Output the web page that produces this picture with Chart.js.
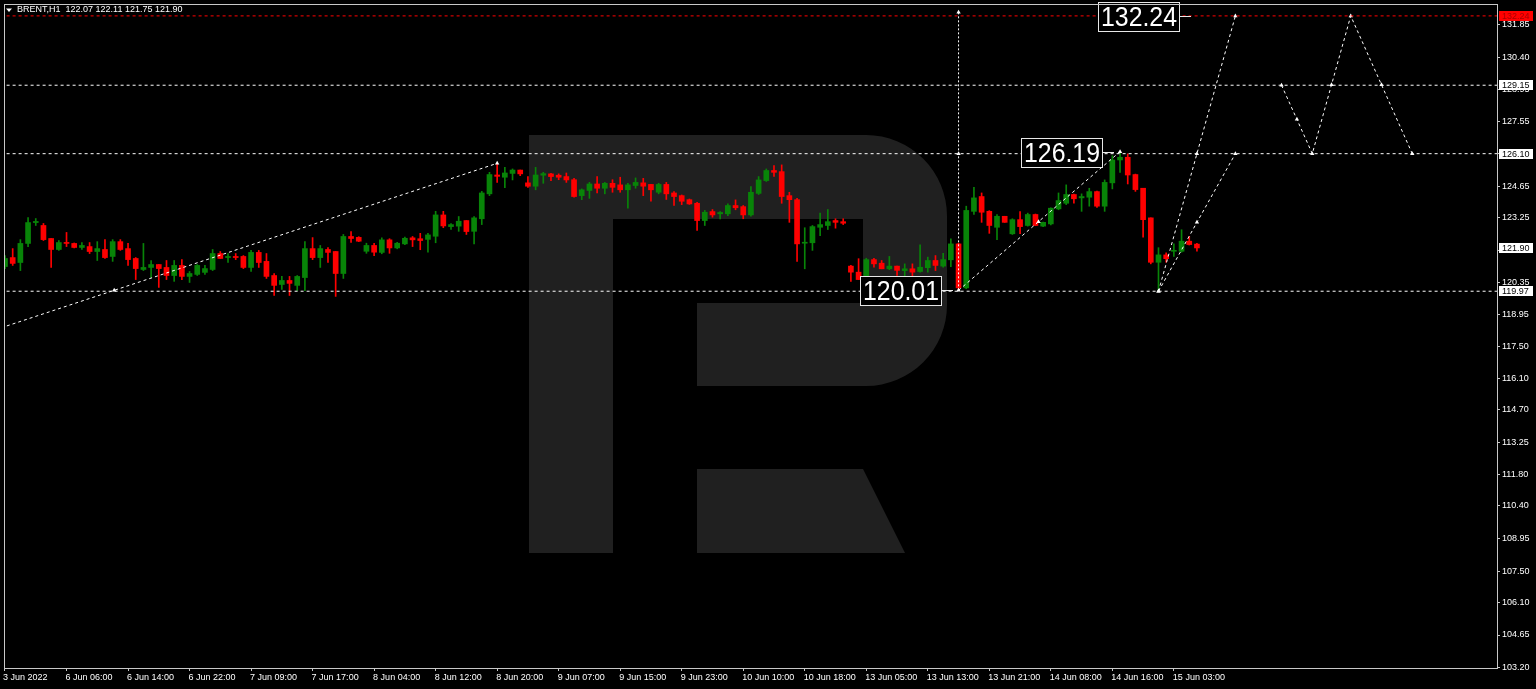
<!DOCTYPE html>
<html>
<head>
<meta charset="utf-8">
<title>BRENT,H1</title>
<script src="https://cdn.jsdelivr.net/npm/chart.js@4.4.1/dist/chart.umd.min.js"></script>
<style>
  html, body { margin: 0; padding: 0; background: #000; overflow: hidden; }
  #wrap { width: 1536px; height: 689px; }
</style>
</head>
<body>
<div id="wrap"><canvas id="brent-chart" width="1536" height="689"></canvas></div>
<script>
// BRENT H1 candles, oldest first (bar index = position in the array)
const barOpen = [
  121.07,121.47,121.25,122.10,123.03,122.90,122.32,121.83,122.14,122.10,
  121.92,121.96,121.74,121.83,121.52,122.18,121.87,121.43,120.94,121.03,
  121.16,121.03,120.67,121.12,120.63,120.72,120.81,120.94,121.65,121.47,
  121.52,121.52,121.03,121.70,121.30,120.67,120.27,120.45,120.23,120.58,
  121.87,121.47,121.83,121.74,120.76,122.41,122.37,121.75,122.01,121.70,
  122.26,121.90,122.08,122.35,122.31,122.28,122.42,123.37,122.85,122.87,
  123.12,122.64,123.20,124.31,125.15,125.05,125.22,125.37,124.80,124.65,
  125.14,125.20,125.14,125.08,124.94,124.23,124.46,124.75,124.56,124.78,
  124.71,124.49,124.68,124.80,124.73,124.38,124.73,124.35,124.23,124.05,
  123.89,123.12,123.52,123.42,123.42,123.79,123.74,123.37,124.33,124.90,
  125.35,125.30,124.23,124.05,122.11,122.13,122.82,122.90,123.12,123.07,
  121.09,120.82,120.53,121.38,121.22,120.97,121.09,120.89,120.97,120.85,
  121.02,121.34,121.09,121.37,122.08,120.12,123.53,124.19,123.53,122.82,
  123.31,122.53,123.16,122.90,123.39,122.87,122.97,123.64,123.89,124.28,
  124.13,124.16,124.41,123.76,124.80,125.82,125.94,125.17,124.56,123.24,
  121.26,121.59,121.75,121.75,122.20,122.07
];
const barHigh = [
  121.56,121.87,122.27,123.25,123.21,122.99,122.32,122.23,122.59,122.12,
  122.14,122.14,122.18,122.27,122.27,122.27,122.10,121.47,122.10,121.34,
  121.16,121.34,121.34,121.38,120.85,121.16,121.12,121.83,121.74,121.65,
  121.65,121.56,121.79,121.79,121.65,120.76,120.63,120.63,120.67,122.18,
  122.36,122.01,121.92,121.74,122.50,122.63,122.40,122.11,122.11,122.35,
  122.31,122.15,122.38,122.41,122.55,122.55,123.53,123.53,122.98,123.30,
  123.12,123.30,124.42,125.27,125.67,125.49,125.42,125.37,125.08,125.49,
  125.27,125.22,125.20,125.24,125.00,124.53,124.82,125.08,124.82,124.94,
  125.05,124.78,125.02,125.00,124.73,124.78,124.82,124.41,124.26,124.08,
  123.93,123.57,123.61,123.52,123.86,124.04,123.79,124.63,125.08,125.42,
  125.57,125.60,124.38,124.11,122.80,122.90,123.45,123.61,123.20,123.20,
  121.12,121.42,121.44,121.44,121.34,121.52,121.09,121.19,121.19,122.04,
  121.49,121.56,121.66,122.31,122.11,123.76,124.60,124.35,123.56,123.39,
  123.31,123.20,123.52,123.45,123.41,123.05,123.69,124.35,124.71,124.30,
  124.31,124.56,124.43,124.93,126.01,126.19,126.09,125.19,124.56,123.24,
  121.91,121.68,122.08,122.71,122.41,122.11
];
const barLow = [
  120.98,121.12,120.89,121.96,122.90,122.23,121.03,121.79,121.96,121.90,
  121.83,121.65,121.34,121.43,121.30,121.79,121.12,120.49,120.89,120.58,
  120.14,120.49,120.41,120.49,120.36,120.67,120.72,120.89,121.43,121.25,
  121.38,120.98,120.85,121.03,120.54,119.78,120.05,119.78,120.00,120.00,
  121.38,121.03,121.25,119.74,120.54,122.14,122.18,121.66,121.56,121.64,
  121.66,121.86,122.04,121.96,121.82,121.71,122.13,122.80,122.72,122.64,
  122.50,122.08,122.94,124.23,124.82,124.58,124.93,125.12,124.60,124.49,
  124.78,124.90,124.94,124.82,124.16,124.05,124.11,124.35,124.31,124.38,
  124.38,123.67,124.56,124.23,123.98,124.31,124.06,123.79,123.83,123.84,
  122.68,122.90,123.27,123.19,123.34,123.60,123.20,123.31,124.28,124.86,
  125.09,123.89,123.04,121.30,120.97,121.79,122.45,122.72,122.78,122.94,
  120.41,120.49,120.31,121.04,120.97,120.93,120.67,120.45,120.45,120.82,
  120.82,120.89,121.04,121.07,120.01,120.08,123.39,123.04,122.55,122.27,
  123.04,122.50,122.53,122.87,122.89,122.85,122.93,123.60,123.83,123.89,
  123.53,123.76,123.71,123.53,124.53,125.27,124.75,124.42,122.38,121.19,
  119.97,121.26,121.52,121.71,122.03,121.75
];
const barClose = [
  121.43,121.21,122.10,123.03,123.08,122.27,121.83,122.14,122.10,121.92,
  122.01,121.74,121.87,121.47,122.18,121.83,121.38,120.98,121.03,121.16,
  120.98,120.67,121.12,120.63,120.76,121.12,120.98,121.65,121.43,121.52,
  121.47,121.03,121.70,121.25,120.63,120.23,120.45,120.32,120.63,121.87,
  121.47,121.87,121.70,120.76,122.41,122.32,122.20,122.01,121.71,122.26,
  121.90,122.11,122.33,122.26,122.23,122.48,123.37,122.88,122.94,123.09,
  122.63,123.24,124.35,125.17,125.09,125.24,125.37,125.20,124.65,125.15,
  125.21,125.08,125.05,124.93,124.19,124.49,124.75,124.56,124.78,124.60,
  124.49,124.71,124.82,124.65,124.49,124.73,124.31,124.19,123.98,123.86,
  123.12,123.49,123.37,123.48,123.79,123.69,123.37,124.38,124.93,125.35,
  125.27,124.19,124.05,122.08,122.15,122.85,122.94,123.07,123.04,123.00,
  120.82,120.49,121.38,121.19,120.97,121.09,120.90,120.97,120.82,121.04,
  121.34,121.12,121.38,122.08,120.12,123.57,124.13,123.49,122.90,123.31,
  123.04,123.16,122.85,123.39,122.90,123.04,123.67,124.01,124.28,124.09,
  124.19,124.41,123.76,124.82,125.82,125.94,125.15,124.50,123.16,121.26,
  121.59,121.42,121.78,122.20,122.05,121.90
];

// time axis: first visible bar date, then one label every 8 bars
const firstBarLabel = '3 Jun 2022';
const timeTickBars = [8, 16, 24, 32, 40, 48, 56, 64, 72, 80, 88, 96, 104, 112, 120, 128, 136, 144, 152];
const timeTickLabels = [
  '6 Jun 06:00', '6 Jun 14:00', '6 Jun 22:00', '7 Jun 09:00', '7 Jun 17:00',
  '8 Jun 04:00', '8 Jun 12:00', '8 Jun 20:00', '9 Jun 07:00', '9 Jun 15:00',
  '9 Jun 23:00', '10 Jun 10:00', '10 Jun 18:00', '13 Jun 05:00', '13 Jun 13:00',
  '13 Jun 21:00', '14 Jun 08:00', '14 Jun 16:00', '15 Jun 03:00'
];

// price axis
const priceTickLabels = [
  '103.20', '104.65', '106.10', '107.50', '108.95', '110.40', '111.80',
  '113.25', '114.70', '116.10', '117.50', '118.95', '120.35', '121.80',
  '123.25', '124.65', '126.10', '127.55', '128.95', '130.40', '131.85'
];

// horizontal levels (first one is the red target level)
const levelValues = [132.24, 129.15, 126.10, 119.97];

// forecast / analysis lines: bar index and price of each node
const trendUpX = [-0.5, 14.2, 64];
const trendUpY = [118.34, 120.01, 125.67];
const dropLineX = [124, 124, 124];
const dropLineY = [120.01, 126.10, 132.40];
const waveOneX = [124, 134.4, 145];
const waveOneY = [120.01, 123.07, 126.19];
const steepLegX = [150, 155, 160];
const steepLegY = [119.97, 126.10, 132.24];
const flatLegX = [150, 155, 160];
const flatLegY = [119.97, 123.04, 126.10];
const zigzagX = [166, 168, 170, 172.5, 175, 179, 183];
const zigzagY = [129.15, 127.63, 126.10, 129.17, 132.24, 129.17, 126.10];

// big price tags on the chart
const tagValues = [120.01, 126.19, 132.24];
const tagBars = [124, 145, 155];

// highlighted prices on the right scale
const axisMarkValues = [132.24, 129.15, 126.10, 121.90, 119.97];

const UP = 'rgb(8,132,8)';
const DOWN = 'rgb(255,0,0)';
const AXIS = '#c8c8c8';
const FONT = '"Liberation Sans", Arial, sans-serif';
const xMin = -0.13, xMax = 194.02;
const yMin = 103.18, yMax = 132.77;

const candleColors = barClose.map((c, i) => (c > barOpen[i] ? UP : DOWN));
const wickData = barHigh.map((h, i) => ({ x: i, y: [barLow[i], h] }));
const bodyData = barOpen.map((o, i) => ({ x: i, y: [o, barClose[i]] }));

const xTickValues = [xMin].concat(timeTickBars);
const xTickText = [firstBarLabel].concat(timeTickLabels);

function pathSet(xs, ys, marks, dash) {
  return {
    type: 'line',
    data: xs.map((x, i) => ({ x: x, y: ys[i] })),
    borderColor: '#ffffff',
    borderWidth: 1,
    borderDash: dash,
    pointRadius: marks,
    pointStyle: 'triangle',
    pointBackgroundColor: '#ffffff',
    pointBorderWidth: 0,
    fill: false,
    tension: 0,
    order: 0
  };
}

function levelSet(v, i) {
  return {
    type: 'line',
    data: [{ x: xMin - 2, y: v }, { x: xMax + 2, y: v }],
    borderColor: i === 0 ? '#ff0000' : '#ffffff',
    borderWidth: 1,
    borderDash: [3, 3],
    pointRadius: 0,
    fill: false,
    order: 0
  };
}

function drawLogo(ctx) {
  ctx.save();
  ctx.fillStyle = '#202020';
  ctx.beginPath();
  ctx.moveTo(529, 135);
  ctx.lineTo(866, 135);
  ctx.arc(866, 216, 81, -Math.PI / 2, 0);
  ctx.lineTo(947, 305);
  ctx.arc(866, 305, 81, 0, Math.PI / 2);
  ctx.lineTo(697, 386);
  ctx.lineTo(697, 303);
  ctx.lineTo(863, 303);
  ctx.lineTo(863, 219);
  ctx.lineTo(613, 219);
  ctx.lineTo(613, 553);
  ctx.lineTo(529, 553);
  ctx.closePath();
  ctx.moveTo(697, 469);
  ctx.lineTo(863, 469);
  ctx.lineTo(905, 553);
  ctx.lineTo(697, 553);
  ctx.closePath();
  ctx.fill();
  ctx.restore();
}

const backdrop = {
  id: 'backdrop',
  beforeDraw(chart) {
    const ctx = chart.ctx;
    ctx.save();
    ctx.fillStyle = '#000';
    ctx.fillRect(0, 0, chart.width, chart.height);
    ctx.restore();
    drawLogo(ctx);
  }
};

const priceTags = {
  id: 'priceTags',
  afterDatasetsDraw(chart) {
    const { ctx, scales: { x, y } } = chart;
    ctx.save();
    tagValues.forEach((v, i) => {
      const px = Math.round(x.getPixelForValue(tagBars[i]));
      const cy = Math.round(y.getPixelForValue(v));
      const right = px - 17;
      const left = right - 82;
      const top = cy - 14;
      ctx.fillStyle = '#000';
      ctx.fillRect(left, top, 82, 30);
      ctx.strokeStyle = '#e8e8e8';
      ctx.lineWidth = 1;
      ctx.strokeRect(left + 0.5, top + 0.5, 81, 29);
      ctx.beginPath();
      ctx.moveTo(right, cy + 0.5);
      ctx.lineTo(right + 11, cy + 0.5);
      ctx.stroke();
      ctx.fillStyle = '#ffffff';
      ctx.font = '28px ' + FONT;
      ctx.textAlign = 'center';
      ctx.textBaseline = 'middle';
      ctx.fillText(v.toFixed(2), left + 41, cy + 2, 76);
    });
    ctx.restore();
  }
};

const chrome = {
  id: 'chrome',
  afterDraw(chart) {
    const { ctx, chartArea: a, scales: { y } } = chart;
    ctx.save();
    // frame
    ctx.strokeStyle = AXIS;
    ctx.lineWidth = 1;
    ctx.strokeRect(a.left + 0.5, a.top + 0.5, a.right - a.left, a.bottom - a.top);
    // highlighted prices on the scale
    ctx.font = '9px ' + FONT;
    ctx.textAlign = 'left';
    ctx.textBaseline = 'middle';
    axisMarkValues.forEach((v, i) => {
      const cy = Math.round(y.getPixelForValue(v));
      ctx.fillStyle = i === 0 ? '#ff0000' : '#ffffff';
      ctx.fillRect(a.right + 2, cy - 5, 34, 10);
      ctx.fillStyle = i === 0 ? '#a80000' : '#000000';
      ctx.fillText(v.toFixed(2), a.right + 5, cy + 0.5);
    });
    // symbol header
    const last = barOpen.length - 1;
    ctx.fillStyle = '#ffffff';
    ctx.beginPath();
    ctx.moveTo(6, 8.5);
    ctx.lineTo(12, 8.5);
    ctx.lineTo(9, 12);
    ctx.closePath();
    ctx.fill();
    ctx.fillText('BRENT,H1  ' + [barOpen[last], barHigh[last], barLow[last], barClose[last]]
      .map(v => v.toFixed(2)).join(' '), 17, 10);
    ctx.restore();
  }
};

const ctx = document.getElementById('brent-chart').getContext('2d');
new Chart(ctx, {
  type: 'bar',
  data: {
    datasets: [
      ...levelValues.map(levelSet),
      pathSet(trendUpX, trendUpY, [0, 2.5, 2.5], [3, 3]),
      pathSet(dropLineX, dropLineY, [2.5, 2.5, 2.5], [2, 2]),
      pathSet(waveOneX, waveOneY, [0, 2.5, 2.5], [3, 3]),
      pathSet(steepLegX, steepLegY, [2.5, 2.5, 2.5], [3, 3]),
      pathSet(flatLegX, flatLegY, [2.5, 2.5, 2.5], [3, 3]),
      pathSet(zigzagX, zigzagY, [2.5, 2.5, 2.5, 2.5, 2.5, 2.5, 2.5], [3, 3]),
      {
        label: 'body',
        data: bodyData,
        backgroundColor: candleColors,
        barThickness: 5,
        minBarLength: 1,
        grouped: false,
        borderWidth: 0,
        order: 1
      },
      {
        label: 'wick',
        data: wickData,
        backgroundColor: candleColors,
        barThickness: 1,
        minBarLength: 1,
        grouped: false,
        borderWidth: 0,
        order: 2
      }
    ]
  },
  options: {
    responsive: false,
    devicePixelRatio: 1,
    animation: false,
    events: [],
    layout: { padding: { left: 3, top: 3, right: 0, bottom: 0 } },
    plugins: { legend: { display: false }, tooltip: { enabled: false } },
    scales: {
      x: {
        type: 'linear',
        min: xMin,
        max: xMax,
        offset: false,
        grid: { drawOnChartArea: false, drawTicks: true, tickLength: 3, color: AXIS, offset: false },
        border: { display: true, color: AXIS },
        ticks: {
          autoSkip: false,
          maxRotation: 0,
          minRotation: 0,
          align: 'start',
          labelOffset: -1,
          padding: 1,
          color: '#ffffff',
          font: { family: FONT, size: 9 },
          callback: (v, i) => xTickText[i]
        },
        afterBuildTicks: s => { s.ticks = xTickValues.map(v => ({ value: v })); },
        afterFit: s => { s.height = 21; s.paddingLeft = 0; s.paddingRight = 0; }
      },
      y: {
        type: 'linear',
        position: 'right',
        min: yMin,
        max: yMax,
        grid: { drawOnChartArea: false, drawTicks: true, tickLength: 3, color: AXIS },
        border: { display: true, color: AXIS },
        ticks: {
          autoSkip: false,
          padding: 2,
          color: '#ffffff',
          font: { family: FONT, size: 9 },
          callback: (v, i) => priceTickLabels[i]
        },
        afterBuildTicks: s => { s.ticks = priceTickLabels.map(t => ({ value: parseFloat(t) })); },
        afterFit: s => { s.width = 39; s.paddingTop = 0; s.paddingBottom = 0; }
      }
    }
  },
  plugins: [backdrop, priceTags, chrome]
});
</script>
</body>
</html>
